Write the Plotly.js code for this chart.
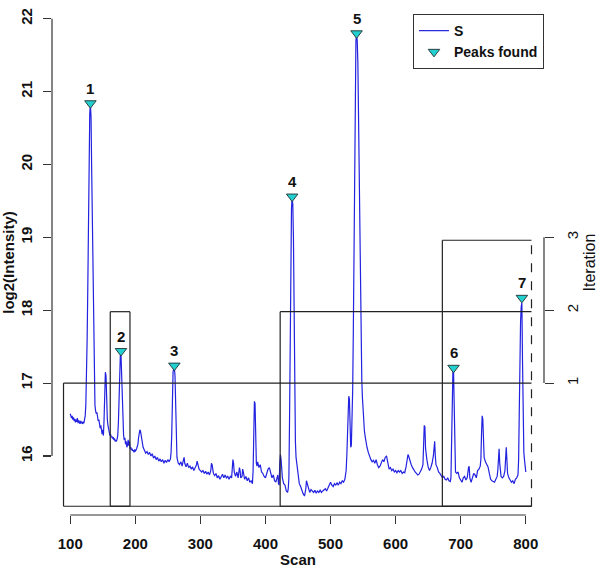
<!DOCTYPE html>
<html>
<head>
<meta charset="utf-8">
<script src="https://cdn.plot.ly/plotly-3.0.1.min.js"></script>
<style>html,body{margin:0;padding:0;background:#fff;}#chart{width:600px;height:569px;}</style>
</head>
<body>
<div id="chart"></div>
<script>
// ---- Data ----
const scans = [100,101,102,103,104,105,106,107,108,109,110,111,112,113,114,115,116,117,118,119,120,121,122,
123,124,125,126,127,128,129,130,131,132,133,134,135,136,137,138,139,140,
141,142,143,144,145,146,147,148,149,150,151,152,153,154,155,156,157,158,159,160,161,162,163,164,165,166,167,168,169,170,171,172,173,174,175,176,177,178,179,180,181,182,183,184,185,186,187,188,189,190,191,192,193,194,195,196,197,198,199,200,
202,204,205,206,207,208,209,210,211,212,214,216,218,220,222,224,226,228,230,232,234,236,238,240,242,244,246,248,250,252,254,255,256,257,258,259,260,261,262,263,264,266,268,270,272,274,275,276,278,280,282,284,286,288,290,292,294,295,296,298,300,
302,304,306,308,310,312,314,316,317,318,319,320,322,324,326,328,330,332,334,336,338,340,342,344,346,348,349,350,351,352,354,356,358,360,361,362,364,365,366,368,370,372,374,376,378,380,381,382,383,384,385,386,387,388,390,392,394,396,398,400,
402,404,406,408,410,412,414,416,418,419,420,421,422,423,424,425,426,428,430,432,434,435,436,437,438,439,440,441,442,443,444,445,446,447,448,449,450,451,452,454,456,458,460,462,463,464,466,468,470,472,474,476,478,480,482,484,486,488,490,492,494,496,498,500,
502,504,506,508,510,512,514,516,518,520,522,523,524,525,526,527,528,529,530,531,532,533,534,535,536,537,538,539,540,541,542,543,544,545,546,547,548,549,550,551,552,553,554,556,558,560,562,564,566,568,570,572,574,576,578,580,582,584,586,588,590,592,594,596,598,600,
602,604,606,608,610,612,614,616,618,619,620,622,624,626,628,630,632,634,636,638,640,642,643,644,645,646,647,648,650,652,654,656,658,659,660,661,662,664,666,668,670,672,674,676,678,680,682,684,685,686,687,688,689,690,691,692,694,696,698,700,
702,704,706,708,710,712,713,714,716,718,720,722,724,726,728,730,731,732,733,734,735,736,738,740,742,744,746,748,750,752,754,756,757,758,759,760,761,762,764,766,768,769,770,771,772,774,776,778,780,782,784,786,788,789,790,791,792,793,794,795,796,797,798,799,800];

const log2Intensity = [16.58,16.56,16.52,16.55,16.50,16.53,16.48,16.51,16.46,16.50,16.47,16.52,16.45,16.49,16.46,16.44,16.48,16.45,16.47,16.44,16.46,16.45,16.50,
16.55,16.70,17.05,17.60,18.30,19.20,20.20,20.70,20.82,20.65,19.90,19.15,18.40,17.50,17.00,16.70,16.62,16.58,
16.60,16.52,16.48,16.50,16.42,16.38,16.42,16.34,16.30,16.36,16.28,16.50,16.90,17.15,17.10,16.70,16.50,16.42,16.35,16.30,16.28,16.30,16.26,16.27,16.24,16.26,16.22,16.24,16.20,16.22,16.20,16.23,16.28,16.45,16.80,17.20,17.38,17.40,17.10,16.65,16.40,16.28,16.22,16.25,16.16,16.20,16.12,16.15,16.22,16.14,16.20,16.10,16.12,16.08,16.10,16.07,16.08,16.05,16.09,16.06,
16.10,16.16,16.25,16.32,16.36,16.34,16.28,16.20,16.18,16.12,16.08,16.04,16.06,16.02,16.05,16.00,16.03,15.97,16.00,15.95,15.98,15.93,15.96,15.92,15.95,15.90,15.94,15.91,15.95,15.92,15.96,16.05,16.30,16.80,17.15,17.20,17.22,17.10,16.60,16.15,15.98,15.90,15.88,15.92,15.86,15.95,15.98,15.90,15.85,15.90,15.84,15.86,15.82,15.85,15.80,15.84,15.88,15.93,15.88,15.82,15.80,
15.78,15.80,15.76,15.79,15.75,15.78,15.74,15.80,15.90,15.88,15.80,15.76,15.73,15.76,15.70,15.73,15.68,15.72,15.75,15.70,15.74,15.70,15.72,15.68,15.72,15.70,15.80,15.95,15.90,15.78,15.72,15.78,15.70,15.84,15.80,15.70,15.72,15.82,15.78,15.68,15.72,15.66,15.70,15.64,15.66,15.62,15.80,16.30,16.75,16.72,16.20,15.90,15.86,15.92,15.84,15.88,15.78,15.76,15.72,15.70,
15.76,15.82,15.84,15.78,15.70,15.74,15.66,15.64,15.72,15.74,15.62,15.60,15.90,16.02,15.95,15.85,15.70,15.62,15.60,15.52,15.50,15.55,15.70,16.50,17.60,18.90,19.40,19.55,19.45,19.00,17.90,16.90,16.20,15.98,15.92,15.86,15.80,15.70,15.62,15.58,15.52,15.48,15.45,15.55,15.66,15.62,15.55,15.50,15.54,15.52,15.50,15.53,15.49,15.52,15.50,15.53,15.50,15.52,15.54,15.55,15.52,15.56,15.60,15.64,
15.60,15.58,15.62,15.60,15.63,15.60,15.64,15.62,15.66,15.64,15.68,15.75,15.80,16.00,16.30,16.65,16.82,16.78,16.40,16.12,16.15,16.40,16.90,17.70,18.80,20.20,21.20,21.70,21.78,21.70,21.40,20.70,19.60,18.70,18.00,17.45,17.05,16.80,16.60,16.45,16.35,16.28,16.20,16.12,16.05,15.98,15.95,15.92,15.94,15.90,15.95,15.88,15.84,15.86,15.90,15.95,15.92,15.98,16.00,15.90,15.82,15.84,15.80,15.82,15.78,15.80,
15.77,15.80,15.78,15.80,15.76,15.78,15.77,15.85,15.96,16.02,16.00,15.92,15.88,15.84,15.80,15.78,15.76,15.74,15.75,15.78,15.82,15.88,16.10,16.42,16.40,16.10,15.98,15.95,15.85,15.80,15.84,15.90,16.00,16.18,16.20,16.00,15.88,15.84,15.78,15.76,15.72,15.70,15.72,15.68,15.67,15.70,15.66,15.65,15.70,16.20,16.90,17.15,17.17,16.50,15.85,15.78,15.76,15.78,15.70,15.66,
15.64,15.70,15.72,15.67,15.70,15.84,15.86,15.70,15.64,15.70,15.76,15.74,15.70,15.80,15.82,15.86,15.95,16.30,16.55,16.50,16.20,15.98,15.92,15.88,15.85,15.76,15.68,15.66,15.65,15.64,15.68,15.72,15.80,16.05,16.10,15.90,15.74,15.72,15.70,15.72,15.80,16.05,16.12,15.95,15.76,15.70,15.66,15.64,15.66,15.62,15.68,15.70,15.74,15.95,16.60,17.40,17.85,18.05,18.10,17.30,16.40,16.05,15.95,15.85,15.78];

const peakScan  = [131, 178, 260, 441, 540, 689, 794];
const peakValue = [20.84, 17.44, 17.24, 19.56, 21.80, 17.21, 18.17];
const peakLabels = ['1','2','3','4','5','6','7'];

const xTicks = [100, 200, 300, 400, 500, 600, 700, 800];
const yTicks = [16, 17, 18, 19, 20, 21, 22];
const iterationTicks = [1, 2, 3];

// search windows per iteration (scan start/end, top level on log2 scale)
const windowIteration = [1, 2, 2, 3];
const windowStart = [89.7, 161.5, 422.6, 671.8];
const windowEnd   = [808.8, 191.8, 808.8, 808.8];
const windowTop   = [17.0, 17.98, 17.98, 18.96];
const windowBase  = 15.31;

// ---- Build figure ----
const FONT = 'Arial, "Liberation Sans", sans-serif';
const boxLine = {color: '#222', width: 1.2};
const shapes = [];
const openRight = Math.max(...windowEnd);
for (let i = 0; i < windowStart.length; i++) {
  const s = windowStart[i], e = windowEnd[i], t = windowTop[i];
  shapes.push({type:'line', xref:'x', yref:'y', x0:s, x1:s, y0:windowBase, y1:t, line:boxLine});
  shapes.push({type:'line', xref:'x', yref:'y', x0:s, x1:e, y0:t, y1:t, line:boxLine});
  shapes.push({type:'line', xref:'x', yref:'y', x0:s, x1:e, y0:windowBase, y1:windowBase, line:boxLine});
  if (e < openRight) shapes.push({type:'line', xref:'x', yref:'y', x0:e, x1:e, y0:windowBase, y1:t, line:boxLine});
}
shapes.push({type:'line', xref:'x', yref:'y', x0:openRight, x1:openRight, y0:windowBase, y1:Math.max(...windowTop),
  line:{color:'#222', width:1.2, dash:'dash'}});
// R-style axis lines spanning first..last tick
shapes.push({type:'line', xref:'x', yref:'paper', x0:xTicks[0], x1:xTicks[xTicks.length-1], y0:0, y1:0, line:{color:'#333', width:1.2}});
shapes.push({type:'line', xref:'paper', yref:'y', x0:0, x1:0, y0:yTicks[0], y1:yTicks[yTicks.length-1], line:{color:'#333', width:1.2}});
shapes.push({type:'line', xref:'paper', yref:'y2', x0:1, x1:1, y0:iterationTicks[0], y1:iterationTicks[iterationTicks.length-1], line:{color:'#333', width:1.2}});

const annotations = peakScan.map((x, i) => ({
  x: x, y: peakValue[i], xref:'x', yref:'y', text: peakLabels[i], showarrow:false,
  yshift: 15, font:{family:FONT, size:15, color:'#111', weight:'bold'}
}));

const yr = [15.19, 22.12];
const data = [
  {x: scans, y: log2Intensity, type:'scatter', mode:'lines', name:'S',
   line:{color:'#2222E0', width:1.2}},
  {x: peakScan, y: peakValue, type:'scatter', mode:'markers', name:'Peaks found',
   marker:{symbol:'triangle-down', size:10, color:'#22D0D0', line:{color:'#2a4040', width:1}}}
];

const layout = {
  width:600, height:569,
  margin:{l:52, r:56, t:10, b:54},
  paper_bgcolor:'#fff', plot_bgcolor:'#fff',
  showlegend:true,
  legend:{x:1, xanchor:'right', y:0.992, yanchor:'top', bordercolor:'#333', borderwidth:1,
    bgcolor:'#fff', font:{family:FONT, size:14, color:'#111', weight:'bold'}, itemwidth:30, tracegroupgap:0},
  xaxis:{range:[72, 828], showgrid:false, zeroline:false, showline:false,
    tickmode:'array', tickvals:xTicks, ticks:'outside', ticklen:8, tickwidth:1.2, tickcolor:'#333',
    ticklabelstandoff:7,
    tickfont:{family:FONT, size:15, color:'#111', weight:'bold'},
    title:{text:'Scan', font:{family:FONT, size:15, color:'#111', weight:'bold'}, standoff:3}},
  yaxis:{range:yr, showgrid:false, zeroline:false, showline:false,
    tickmode:'array', tickvals:yTicks, ticks:'outside', ticklen:8, tickwidth:1.2, tickcolor:'#333',
    tickangle:-90, ticklabelstandoff:5,
    tickfont:{family:FONT, size:15, color:'#111', weight:'bold'},
    title:{text:'log2(Intensity)', font:{family:FONT, size:15, color:'#111', weight:'bold'}, standoff:4}},
  yaxis2:{range:[yr[0]-16, yr[1]-16], overlaying:'y', side:'right', anchor:'x',
    showgrid:false, zeroline:false, showline:false,
    tickmode:'array', tickvals:iterationTicks, ticks:'outside', ticklen:9, tickwidth:1.2, tickcolor:'#333',
    tickangle:-90, ticklabelstandoff:6,
    tickfont:{family:FONT, size:15, color:'#111'},
    title:{text:'Iteration', font:{family:FONT, size:16, color:'#111'}, standoff:2}},
  shapes: shapes,
  annotations: annotations
};
// invisible anchor trace so the right-hand Iteration axis is drawn
data.push({x:[xTicks[0]], y:[iterationTicks[0]], yaxis:'y2', type:'scatter', mode:'markers',
  marker:{opacity:0}, showlegend:false, hoverinfo:'skip'});

Plotly.newPlot('chart', data, layout, {staticPlot:true, displayModeBar:false});
</script>
</body>
</html>
